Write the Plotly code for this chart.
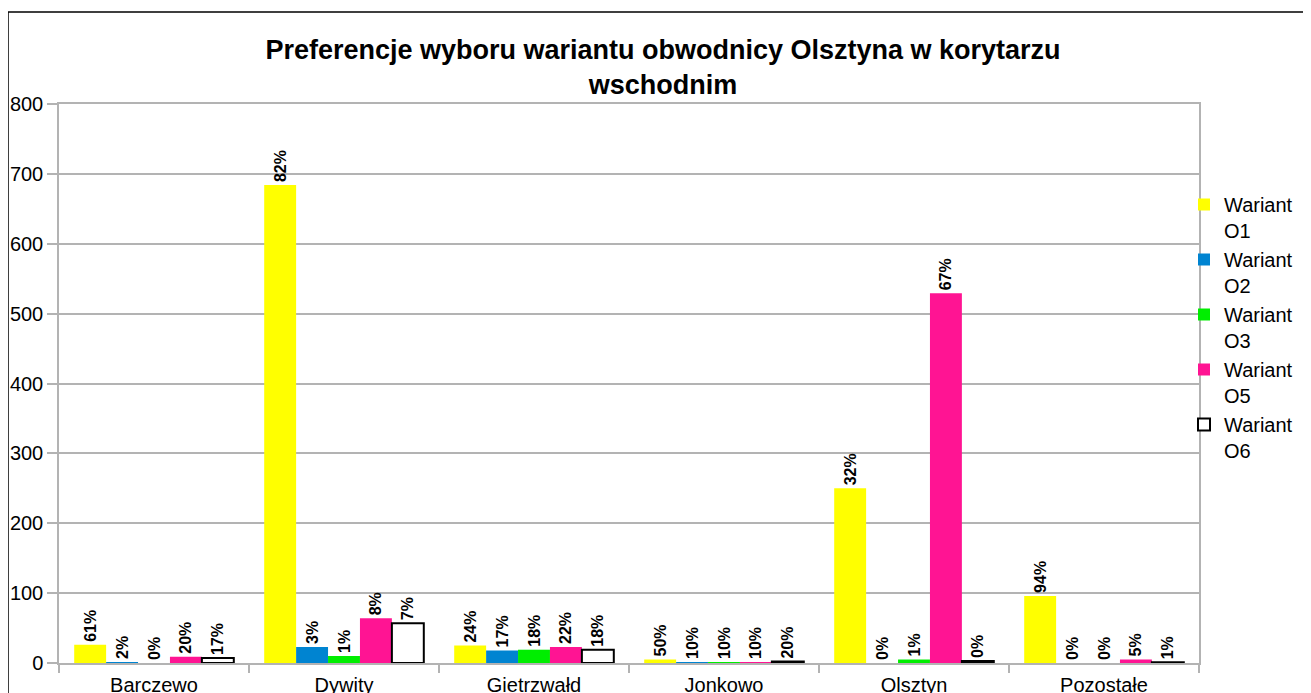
import plotly.graph_objects as go

categories = ["Barczewo", "Dywity", "Gietrzwałd", "Jonkowo", "Olsztyn", "Pozostałe"]
series_names = ["Wariant<br>O1", "Wariant<br>O2", "Wariant<br>O3", "Wariant<br>O5", "Wariant<br>O6"]

o1 = [26, 684, 25, 5, 250, 96]
o2 = [1, 23, 18, 1, 0, 0]
o3 = [0, 10, 19, 1, 5, 0]
o5 = [9, 64, 23, 1, 529, 5]
o6 = [7, 57, 19, 2, 3, 1]

o1_pct = ["61%", "82%", "24%", "50%", "32%", "94%"]
o2_pct = ["2%", "3%", "17%", "10%", "0%", "0%"]
o3_pct = ["0%", "1%", "18%", "10%", "1%", "0%"]
o5_pct = ["20%", "8%", "22%", "10%", "67%", "5%"]
o6_pct = ["17%", "7%", "18%", "20%", "0%", "1%"]

y_ticks = [0, 100, 200, 300, 400, 500, 600, 700, 800]

values = [o1, o2, o3, o5, o6]
labels = [o1_pct, o2_pct, o3_pct, o5_pct, o6_pct]
fills = ["#FFFF00", "#0084D1", "#00EE00", "#FF1493", "#FFFFFF"]
edges = [None, None, None, None, "#000000"]

FONT = "Liberation Sans, Arial, sans-serif"

fig = go.Figure()
for name, vals, txt, fc, ec in zip(series_names, values, labels, fills, edges):
    fig.add_trace(go.Bar(
        x=categories, y=vals, name=name, text=txt,
        textposition="outside", textangle=-90, cliponaxis=False,
        constraintext="none",
        textfont=dict(family=FONT, size=16, color="#000000", weight="bold"),
        marker=dict(color=fc, line=dict(color=ec if ec else fc, width=2 if ec else 0)),
    ))

# page body adds an 8px offset; figure coordinates are shifted to compensate
W, H = 1311, 693
L, R, T, B = 51, 120, 96, 38
pw, ph = W - L - R, H - T - B

fig.update_layout(
    width=W, height=H,
    margin=dict(l=L, r=R, t=T, b=B, pad=0, autoexpand=False),
    paper_bgcolor="white", plot_bgcolor="white",
    barmode="group", bargap=0.16, bargroupgap=0,
    font=dict(family=FONT, color="#000000"),
    title=dict(
        text="<b>Preferencje wyboru wariantu obwodnicy Olsztyna w korytarzu<br>wschodnim</b>",
        x=655 / W, xref="container", xanchor="center",
        y=1 - 51 / H, yref="container", yanchor="top",
        font=dict(family=FONT, size=27, color="#000000"),
    ),
    legend=dict(
        x=(1176 - L) / pw, xanchor="left",
        y=(H - B - 177) / ph, yanchor="top",
        font=dict(family=FONT, size=20, color="#000000"),
        valign="top", bgcolor="rgba(0,0,0,0)", tracegroupgap=0,
        itemclick=False,
    ),
    showlegend=True,
    shapes=[dict(
        type="rect", xref="paper", yref="paper",
        x0=(0 - L) / pw, x1=1.3, y0=-0.3, y1=(H - B - 4) / ph,
        line=dict(color="#000000", width=1.5), fillcolor="rgba(0,0,0,0)", layer="below",
    )],
)

fig.update_xaxes(
    type="category", showgrid=False, showline=True, mirror=True, automargin=False,
    linecolor="#b3b3b3", linewidth=1.5, ticklabelstandoff=3,
    ticks="outside", tickson="boundaries", ticklen=8, tickcolor="#b3b3b3", tickwidth=1.5,
    tickfont=dict(family=FONT, size=20, color="#000000"),
)
fig.update_yaxes(
    range=[0, 800], tickvals=y_ticks, showgrid=True, gridcolor="#b3b3b3", gridwidth=1.5,
    showline=True, mirror=True, linecolor="#b3b3b3", linewidth=1.5, zeroline=False,
    automargin=False, ticklabelstandoff=0,
    ticks="outside", ticklen=10, tickcolor="#b3b3b3", tickwidth=1.5,
    tickfont=dict(family=FONT, size=20, color="#000000"),
)

fig.write_html("out.html")
